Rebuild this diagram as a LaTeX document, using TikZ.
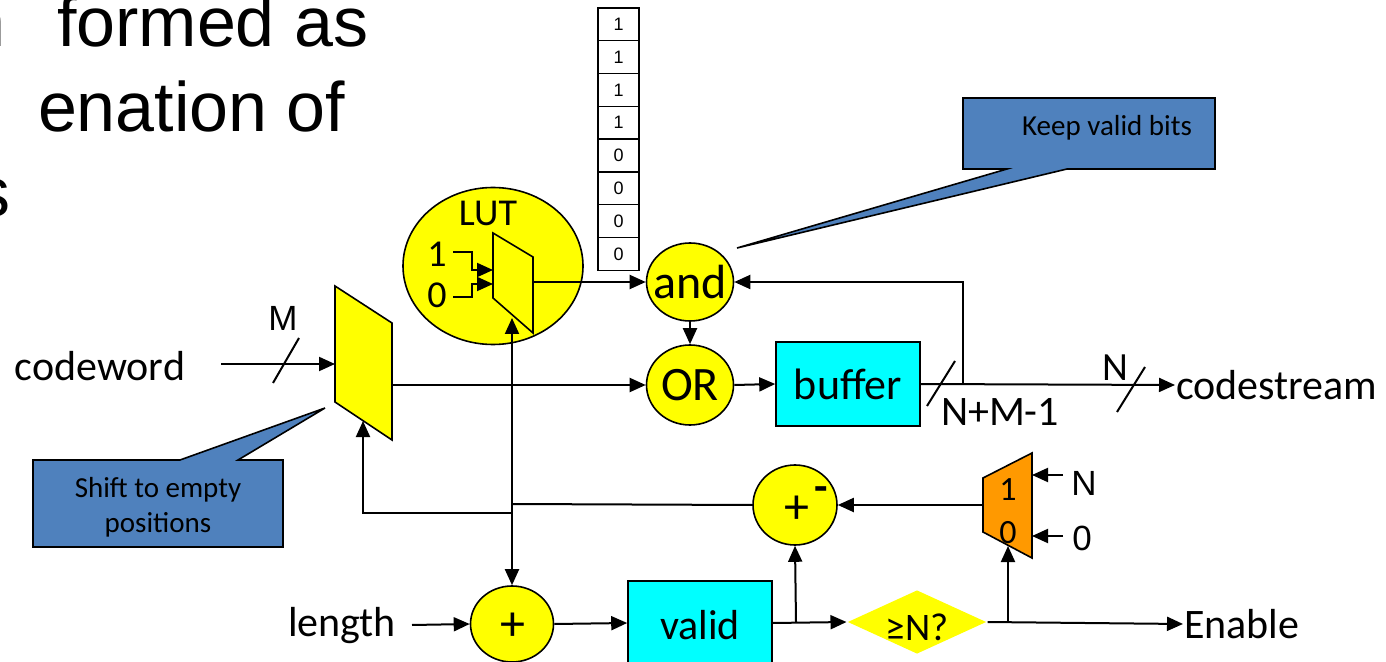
\documentclass[tikz,border=0pt]{standalone}
\usepackage{fontspec}
\setmainfont{Carlito}
\newfontfamily\arial{Liberation Sans}
\usetikzlibrary{shapes.geometric,arrows.meta,calc}
\definecolor{callblue}{HTML}{4F81BD}
\definecolor{muxorange}{HTML}{FF9900}
\definecolor{boxcyan}{HTML}{00FFFF}
\definecolor{gateyellow}{HTML}{FFFF00}
\begin{document}
\begin{tikzpicture}[x=0.5pt,y=-0.5pt,line width=1pt,
  arr/.style={-{Triangle[length=8pt,width=7pt]}},
  yel/.style={ellipse,draw,fill=gateyellow,line width=0.8pt,inner sep=0pt},
  cyanbox/.style={rectangle,draw,fill=boxcyan,line width=0.8pt,inner sep=0pt},
  callout/.style={draw,fill=callblue,line width=0.8pt,line join=miter},
  lbl/.style={inner sep=0pt,font=\fontsize{21}{25}\selectfont},
  big/.style={inner sep=0pt,font=\fontsize{24}{28}\selectfont},
  small/.style={inner sep=0pt,font=\fontsize{14.5}{17.5}\selectfont},
  head/.style={inner sep=0pt,font=\arial\fontsize{35}{40}\selectfont},
  bit/.style={inner sep=0pt,font=\arial\fontsize{9}{10}\selectfont},
]
\useasboundingbox (0,0) rectangle (1386,662);
\clip (0,0) rectangle (1386,662);

% --- cropped title text ---
\node[head,anchor=base west] (t1a) at (-34,47) {n};
\node[head,anchor=base west] (t1b) at (56,47) {formed as};
\node[head,anchor=base west] (t2) at (37,132) {enation of};
\node[head,anchor=base west] (t3) at (-26,217) {s};

% --- bit column ---
\foreach \v [count=\i from 0] in {1,1,1,1,0,0,0,0}{
  \draw[line width=0.7pt] (598,{8+\i*32.8}) rectangle (639,{8+(\i+1)*32.8});
  \node[bit] (bit\i) at (618.5,{8+(\i+0.5)*32.8}) {\v};
}

% --- callouts ---
\draw[callout] (963,98) -- (1215,98) -- (1215,169) -- (1067,169) -- (737,248) -- (1007,169) -- (963,169) -- cycle;
\node[small] (kvb) at (1107,128) {Keep valid bits};
\draw[callout] (33,460) -- (180,460) -- (325,408) -- (238,460) -- (283,460) -- (283,547) -- (33,547) -- cycle;
\node[small] (shf1) at (158,490) {Shift to empty};
\node[small] (shf2) at (158,525) {positions};

% --- LUT ---
\node[yel,minimum width=90pt,minimum height=78.5pt] (lut) at (493,266) {};
\node[inner sep=0pt,font=\fontsize{19}{22}\selectfont] (luttxt) at (488,213) {LUT};
\node[inner sep=0pt,font=\fontsize{19}{22}\selectfont] (one) at (437,254) {1};
\node[inner sep=0pt,font=\fontsize{19}{22}\selectfont] (zero) at (437,295) {0};
\draw[fill=gateyellow,line width=0.8pt] (493,233) -- (533,257) -- (533,333) -- (493,298) -- cycle;
\coordinate (lutin1) at (493,270);
\coordinate (lutin0) at (493,284);
\coordinate (lutout) at (533,282);
\coordinate (lutsel) at (512,318);
\coordinate (w1) at (453,252);
\coordinate (w0) at (453,297);
\draw[arr] (w1) -- (472,252) |- (lutin1);
\draw[arr] (w0) -- (472,297) |- (lutin0);

% --- shifter ---
\draw[fill=gateyellow,line width=0.8pt] (335,286) -- (392,323) -- (392,440) -- (335,402) -- cycle;
\coordinate (shin) at (335,364);
\coordinate (shout) at (392,385);
\coordinate (shsel) at (363,421);
\node[lbl] (cw) at (100,366) {codeword};
\coordinate (cwr) at (221,364);
\draw[arr] (cwr) -- (shin);
\draw (273,383) -- (299,338);
\node[inner sep=0pt,font=\arial\fontsize{17.5}{20}\selectfont] (mlab) at (283,318) {M};

% --- and / OR / buffer ---
\node[yel,minimum width=43.5pt,minimum height=39pt] (and) at (690,282) {};
\node[big] at (and) {and};
\node[yel,minimum width=43.5pt,minimum height=40pt] (or) at (690,385) {};
\node[big] at (or) {OR};
\node[cyanbox,minimum width=72pt,minimum height=42pt] (buf) at (848,384) {};
\node[lbl,font=\fontsize{22}{26}\selectfont] at (buf) {buffer};

\draw[arr] (lutout) -- (and.west);
\draw[arr] (and.south) -- (or.north);
\draw[arr] (shout) -- (or.west);
\draw[arr] (or.east) -- (buf.west);

\node[lbl,anchor=west] (cstxt) at (1175,385) {codestream};
\draw[arr] (buf.east) -- (cstxt.west);
\coordinate (fb) at (963,385);
\draw[arr] (fb) |- (and.east);
\draw (927,406) -- (955,361);
\node[lbl,anchor=west] (nm1) at (940,412) {N+M-1};
\draw (1117,412) -- (1145,367);
\node[inner sep=0pt,font=\fontsize{20}{24}\selectfont] (nlab) at (1115,368) {N};

% --- lower path ---
\node[yel,minimum width=41.5pt,minimum height=38pt] (plus) at (512,624) {};
\node[inner sep=0pt,font=\fontsize{25}{28}\selectfont] at (513,627) {+};
\node[lbl] (len) at (342,626) {length};
\coordinate (lenr) at (412,625);
\draw[arr] (lenr) -- (plus.west);
\node[cyanbox,minimum width=72pt,minimum height=42pt] (valid) at (700,623) {};
\node[lbl] at (700,625) {valid};
\draw[arr] (plus.east) -- (valid.west);

\node[diamond,fill=gateyellow,inner sep=0pt,minimum width=69.5pt,minimum height=32pt,aspect=2.17] (ge) at (917,622) {};
\node[inner sep=0pt,font=\fontsize{19.5}{23}\selectfont] at (917,627) {≥N?};
\draw[arr] (valid.east) -- (ge.west);

\node[yel,minimum width=42pt,minimum height=40pt] (sub) at (795,505) {};
\node[inner sep=0pt,font=\fontsize{25}{28}\selectfont] at (797,510) {+};
\node[inner sep=0pt,font=\bfseries\fontsize{22}{25}\selectfont] at (821,494) {-};
\coordinate (vj) at (796,622);
\draw[arr] (vj) -- (sub.south);

\node[lbl,anchor=west] (en) at (1183,624) {Enable};
\draw[arr] (ge.east) -- (en.west);

% --- orange mux ---
\draw[fill=muxorange,line width=0.8pt] (983,478) -- (1032,453) -- (1032,558) -- (983,532) -- cycle;
\node[inner sep=0pt,font=\fontsize{17}{20}\selectfont] (m1) at (1008,490) {1};
\node[inner sep=0pt,font=\fontsize{17}{20}\selectfont] (m0) at (1008,533) {0};
\coordinate (omout) at (983,505);
\coordinate (omin1) at (1032,475);
\coordinate (omin0) at (1032,536);
\coordinate (omsel) at (1008,546);
\node[inner sep=0pt,font=\arial\fontsize{17.5}{20}\selectfont] (nin) at (1084,483) {N};
\node[inner sep=0pt,font=\arial\fontsize{17.5}{20}\selectfont] (zin) at (1082,538) {0};
\coordinate (ninl) at (1063,475);
\coordinate (zinl) at (1063,536);
\draw[arr] (ninl) -- (omin1);
\draw[arr] (zinl) -- (omin0);
\coordinate (gj) at (1008,622);
\draw[arr] (gj) -- (omsel);
\draw[arr] (omout) -- (sub.east);

% --- feedback distribution ---
\coordinate (j1) at (512,504);
\coordinate (j2) at (512,513);
\draw (sub.west) -- (j1);
\draw[arr] (j1) -- (lutsel);
\draw[arr] (j1) -- (plus.north);
\draw[arr] (j2) -| (shsel);
\end{tikzpicture}
\end{document}
